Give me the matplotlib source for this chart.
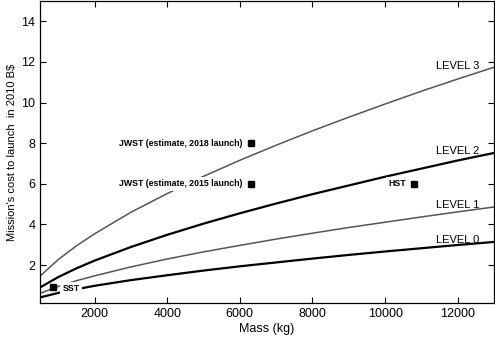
import numpy as np
import matplotlib
matplotlib.use("Agg")
from matplotlib import pyplot as plt

plt.rcParams['font.family'] = ['Liberation Sans', 'DejaVu Sans']

# values
mass = [500, 1000, 1500, 2000, 3000, 4000, 5000, 6000, 7000,
        8000, 9000, 10000, 11000, 12000, 13000]
level0 = [0.41, 0.63, 0.81, 0.98, 1.26, 1.50, 1.73, 1.94, 2.13,
          2.32, 2.50, 2.67, 2.83, 2.99, 3.14]
level1 = [0.61, 0.95, 1.23, 1.47, 1.91, 2.30, 2.65, 2.97, 3.28,
          3.57, 3.85, 4.11, 4.37, 4.62, 4.86]
level2 = [0.90, 1.41, 1.84, 2.22, 2.89, 3.49, 4.04, 4.55, 5.03,
          5.49, 5.92, 6.35, 6.75, 7.15, 7.52]
level3 = [1.46, 2.27, 2.95, 3.54, 4.60, 5.52, 6.37, 7.16, 7.90,
          8.61, 9.28, 9.93, 10.56, 11.16, 11.74]
levels = [level0, level1, level2, level3]
level_names = ['LEVEL 0', 'LEVEL 1', 'LEVEL 2', 'LEVEL 3']
level_colors = ['black', '#555555', 'black', '#555555']
level_widths = [1.6, 1.1, 1.6, 1.1]

missions = ['SST', 'JWST (estimate, 2015 launch)',
            'JWST (estimate, 2018 launch)', 'HST']
mission_mass = [850, 6300, 6300, 10800]
mission_cost = [0.9, 6.0, 8.0, 6.0]

xticks = [2000, 4000, 6000, 8000, 10000, 12000]
yticks = [2, 4, 6, 8, 10, 12, 14]

fig = plt.figure(figsize=(4.95, 3.4), dpi=100)
ax = fig.add_axes([0.081, 0.108, 0.917, 0.889])

for vals, name, c, lw in zip(levels, level_names, level_colors, level_widths):
    ax.plot(mass, vals, color=c, lw=lw, zorder=2)
    ax.annotate(name, xy=(12600, vals[-1]), xytext=(0, -2.5),
                textcoords='offset points', ha='right', va='bottom',
                fontsize=8)

# mission markers; labels sit on a white box that hides the curves behind
ax.plot(mission_mass, mission_cost, 's', color='black', ms=5, zorder=5)
for name, m, c in zip(missions, mission_mass, mission_cost):
    if name == 'SST':
        off, ha = (7, -1), 'left'
    else:
        off, ha = (-6, 0), 'right'
    ax.annotate(name, xy=(m, c), xytext=off, textcoords='offset points',
                ha=ha, va='center', fontsize=6.3, fontweight='bold',
                zorder=4,
                bbox=dict(boxstyle='square,pad=0.25', fc='white', ec='none'))

ax.set_xlim(500, 13000)
ax.set_ylim(0.12, 15)
ax.set_xticks(xticks)
ax.set_yticks(yticks)
ax.tick_params(direction='in', length=4.5, width=0.8, labelsize=9,
               top=True, right=True, labeltop=False, labelright=False)
for s in ax.spines.values():
    s.set_linewidth(0.9)

ax.set_xlabel('Mass (kg)', fontsize=9, labelpad=2)
ax.set_ylabel("Mission's cost to launch  in 2010 B$", fontsize=8, labelpad=3)

fig.savefig('out.png', dpi=100)
